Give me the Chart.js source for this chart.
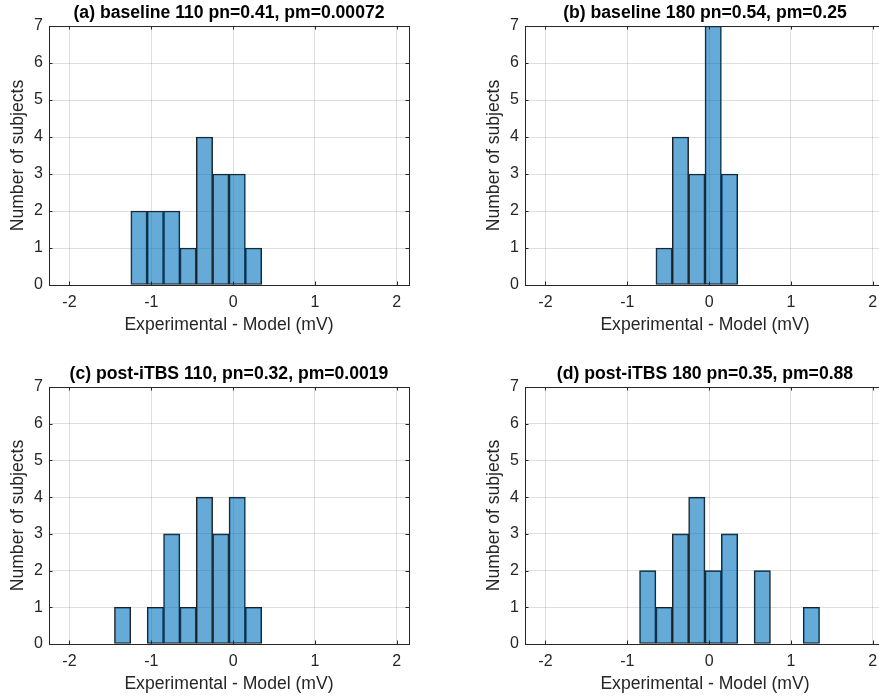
<!DOCTYPE html>
<html>
<head>
<meta charset="utf-8">
<script src="https://cdn.jsdelivr.net/npm/chart.js@4.4.1/dist/chart.umd.min.js"></script>
<style>
  html, body { margin: 0; padding: 0; background: #fff; overflow: hidden; width: 879px; height: 696px; }
  .panel { position: absolute; }
</style>
</head>
<body>
<canvas id="chart-a" class="panel" width="422" height="340" style="left:0px;top:0px"></canvas>
<canvas id="chart-b" class="panel" width="422" height="340" style="left:476px;top:0px"></canvas>
<canvas id="chart-c" class="panel" width="422" height="338" style="left:0px;top:361px"></canvas>
<canvas id="chart-d" class="panel" width="422" height="338" style="left:476px;top:361px"></canvas>
<script>
/* ── Data (bin width 0.2 mV) ─────────────────────────── */
const binCenters = [-1.35, -1.15, -0.95, -0.75, -0.55, -0.35, -0.15, 0.05, 0.25, 0.45, 0.65, 0.85, 1.05, 1.25];
const countsA = [0, 2, 2, 2, 1, 4, 3, 3, 1, 0, 0, 0, 0, 0];
const countsB = [0, 0, 0, 0, 1, 4, 3, 7, 3, 0, 0, 0, 0, 0];
const countsC = [1, 0, 1, 3, 1, 4, 3, 4, 1, 0, 0, 0, 0, 0];
const countsD = [0, 0, 0, 2, 1, 3, 4, 2, 3, 0, 2, 0, 0, 1];

const titles = [
  '(a) baseline 110 pn=0.41, pm=0.00072',
  '(b) baseline 180 pn=0.54, pm=0.25',
  '(c) post-iTBS 110, pn=0.32, pm=0.0019',
  '(d) post-iTBS 180 pn=0.35, pm=0.88',
];
const xTicks = [-2, -1, 0, 1, 2];
const yTicks = [0, 1, 2, 3, 4, 5, 6, 7];
const xLabel = 'Experimental - Model (mV)';
const yLabel = 'Number of subjects';

const FONT = "'Liberation Sans', Arial, Helvetica, sans-serif";
const TEXT = '#262626';

// frame + inward tick marks, matlab style
const matlabBox = {
  id: 'matlabBox',
  afterDraw(chart) {
    const { ctx, chartArea: a, scales } = chart;
    const tl = 3.5;
    ctx.save();
    ctx.strokeStyle = TEXT;
    ctx.lineWidth = 1;
    ctx.beginPath();
    scales.x.ticks.forEach((t) => {
      const px = Math.round(scales.x.getPixelForValue(t.value)) + 0.5;
      ctx.moveTo(px, a.bottom); ctx.lineTo(px, a.bottom - tl);
      ctx.moveTo(px, a.top); ctx.lineTo(px, a.top + tl);
    });
    scales.y.ticks.forEach((t) => {
      const py = Math.round(scales.y.getPixelForValue(t.value)) + 0.5;
      ctx.moveTo(a.left, py); ctx.lineTo(a.left + tl, py);
      ctx.moveTo(a.right, py); ctx.lineTo(a.right - tl, py);
    });
    ctx.stroke();
    ctx.strokeRect(a.left + 0.5, a.top + 0.5, a.right - a.left, a.bottom - a.top);
    ctx.restore();
  },
};

function renderHist(id, counts, title) {
  const data = binCenters
    .map((c, i) => ({ x: c, y: counts[i] }))
    .filter((p) => p.y > 0);

  new Chart(document.getElementById(id), {
    type: 'bar',
    data: {
      datasets: [{
        data,
        backgroundColor: 'rgba(0, 114, 189, 0.6)',
        borderColor: '#1e1e1e',
        borderWidth: 1,
        borderSkipped: false,
        barPercentage: 1,
        categoryPercentage: 1,
      }],
    },
    options: {
      responsive: false,
      animation: false,
      devicePixelRatio: 1,
      layout: { padding: { left: 0, right: 13, top: 0, bottom: 0 } },
      plugins: {
        legend: { display: false },
        tooltip: { enabled: false },
        title: {
          display: true,
          text: title,
          fullSize: false,
          color: '#000',
          font: { family: FONT, size: 17.6, weight: 'bold', lineHeight: 1.2 },
          padding: { top: 2.5, bottom: 2.4 },
        },
      },
      scales: {
        x: {
          type: 'linear',
          offset: false,
          min: -2.25,
          max: 2.15,
          afterBuildTicks: (s) => { s.ticks = xTicks.map((v) => ({ value: v })); },
          afterFit: (s) => { s.height = 55; },
          grid: { color: 'rgba(38,38,38,0.15)', drawTicks: false, offset: false },
          border: { display: false },
          ticks: { color: TEXT, padding: 8, maxRotation: 0, font: { family: FONT, size: 16, lineHeight: 1.2 } },
          title: {
            display: true,
            text: xLabel,
            color: TEXT,
            font: { family: FONT, size: 17.6, lineHeight: 1.2 },
            padding: { top: 0, bottom: 4 },
          },
        },
        y: {
          min: 0,
          max: 7,
          afterBuildTicks: (s) => { s.ticks = yTicks.map((v) => ({ value: v })); },
          afterFit: (s) => { s.width = 49; },
          grid: { color: 'rgba(38,38,38,0.15)', drawTicks: false },
          border: { display: false },
          ticks: { color: TEXT, padding: 6, font: { family: FONT, size: 16, lineHeight: 1.2 } },
          title: {
            display: true,
            text: yLabel,
            color: TEXT,
            font: { family: FONT, size: 17.6, lineHeight: 1.2 },
            padding: { top: 7.5, bottom: 0 },
          },
        },
      },
    },
    plugins: [matlabBox],
  });
}

renderHist('chart-a', countsA, titles[0]);
renderHist('chart-b', countsB, titles[1]);
renderHist('chart-c', countsC, titles[2]);
renderHist('chart-d', countsD, titles[3]);
</script>
</body>
</html>
